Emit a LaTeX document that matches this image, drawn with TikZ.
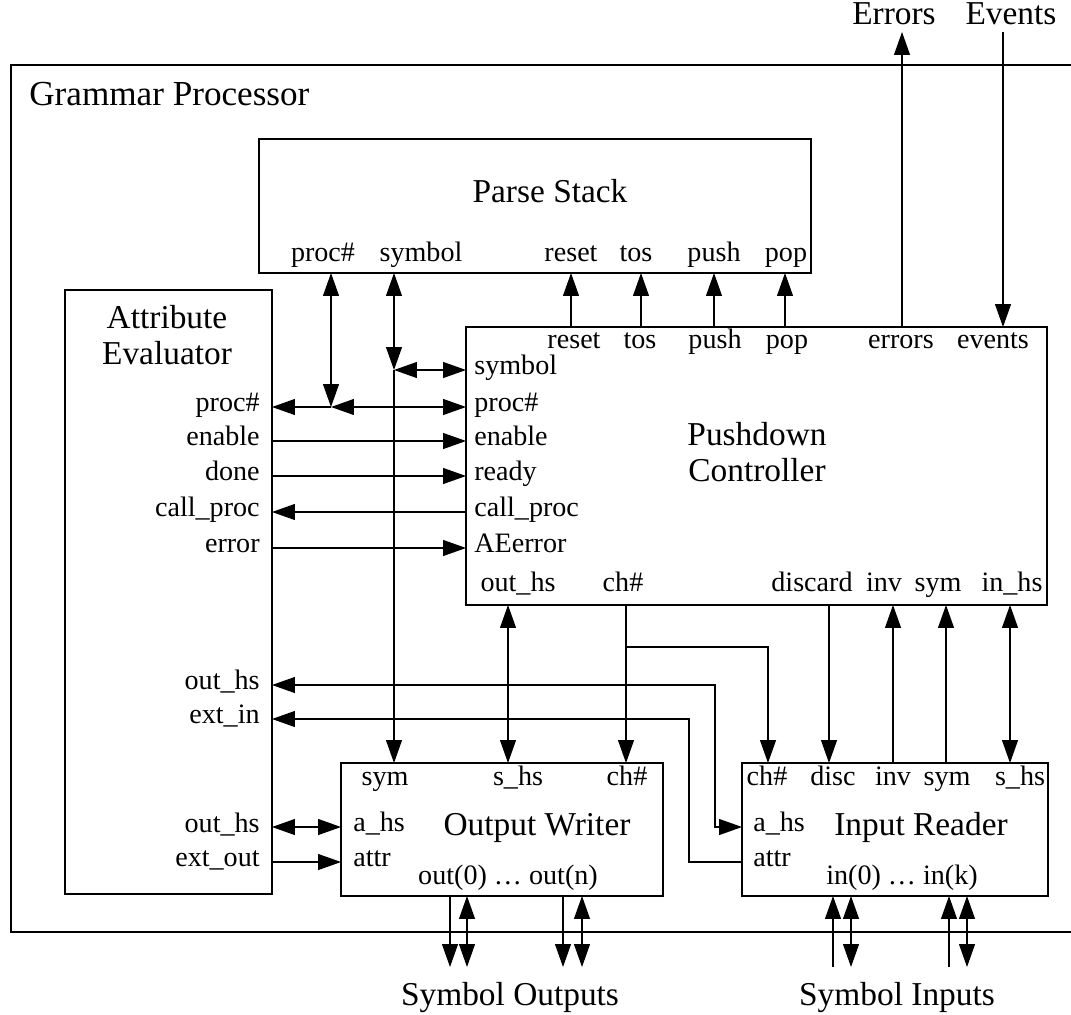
\documentclass[tikz,border=0pt]{standalone}
\usepackage{fontspec}
\setmainfont{Liberation Serif}
\usetikzlibrary{arrows.meta}
\newcommand\portsize{\fontsize{16}{17}\selectfont}
\newcommand\titlesize{\fontsize{19}{20.3}\selectfont}
\newcommand\gpsize{\fontsize{20}{22}\selectfont}
\tikzset{
  blkbox/.style={draw,line width=1pt,inner sep=0pt,outer sep=0pt},
  portlbl/.style={font=\portsize,inner sep=0pt,text height=0.7em,text depth=0.24em},
  blktitle/.style={font=\titlesize,inner sep=0pt,align=center},
  sigline/.style={-{Triangle[length=13pt,width=9pt]},line width=0.8pt},
  bisig/.style={{Triangle[length=13pt,width=9pt]}-{Triangle[length=13pt,width=9pt]},line width=0.8pt},
}

\begin{document}
\begin{tikzpicture}[x=0.02cm,y=-0.02cm]
  \useasboundingbox (0,0) rectangle (1071,1014);
  % outer frame, right side runs off the page
  \draw[line width=1pt] (1071,65) -- (11,65) -- (11,932) -- (1071,932);
  \node[font=\gpsize,anchor=base west,inner sep=0pt] (gpTitle) at (29,105) {Grammar Processor};

  % blocks
  \node[blkbox,minimum width=11.04cm,minimum height=2.68cm] (ps) at (535,206) {};
  \node[blkbox,minimum width=4.14cm,minimum height=12.08cm] (ae) at (168.5,592) {};
  \node[blkbox,minimum width=11.62cm,minimum height=5.56cm] (ctl) at (756.5,466) {};
  \node[blkbox,minimum width=6.44cm,minimum height=2.66cm] (ow) at (502,829.5) {};
  \node[blkbox,minimum width=6.12cm,minimum height=2.66cm] (ir) at (895,829.5) {};

  % titles
  \node[blktitle,anchor=base] (psTitle) at (550,202) {Parse Stack};
  \node[blktitle] (aeTitle) at (167,335) {Attribute\\Evaluator};
  \node[blktitle] (ctlTitle) at (757,452) {Pushdown\\Controller};
  \node[blktitle,anchor=base] (owTitle) at (537,835) {Output Writer};
  \node[blktitle,anchor=base] (irTitle) at (921,835) {Input Reader};
  \node[blktitle,anchor=base] (errTitle) at (894,25) {Errors};
  \node[blktitle,anchor=base] (evtTitle) at (1011,25) {Events};
  \node[blktitle,anchor=base] (soTitle) at (510,1005) {Symbol Outputs};
  \node[blktitle,anchor=base] (siTitle) at (897,1005) {Symbol Inputs};

  % parse stack ports
  \node[portlbl] (psProc) at (323,257) {proc\#};
  \node[portlbl] (psSym) at (421,257) {symbol};
  \node[portlbl] (psReset) at (571,257) {reset};
  \node[portlbl] (psTos) at (636,257) {tos};
  \node[portlbl] (psPush) at (714,257) {push};
  \node[portlbl] (psPop) at (786,257) {pop};

  % controller ports
  \node[portlbl] (ctReset) at (574,344) {reset};
  \node[portlbl] (ctTos) at (640,344) {tos};
  \node[portlbl] (ctPush) at (715,344) {push};
  \node[portlbl] (ctPop) at (787,344) {pop};
  \node[portlbl] (ctErr) at (901,344) {errors};
  \node[portlbl] (ctEvt) at (993,344) {events};
  \node[portlbl,anchor=west] (ctSym) at (474,370) {symbol};
  \node[portlbl,anchor=west] (ctProc) at (474,407) {proc\#};
  \node[portlbl,anchor=west] (ctEn) at (474,441) {enable};
  \node[portlbl,anchor=west] (ctRdy) at (474,476) {ready};
  \node[portlbl,anchor=west] (ctCall) at (474,512) {call\_proc};
  \node[portlbl,anchor=west] (ctAErr) at (474,548) {AEerror};
  \node[portlbl] (ctOutHs) at (518,587) {out\_hs};
  \node[portlbl] (ctCh) at (623,587) {ch\#};
  \node[portlbl] (ctDisc) at (812,587) {discard};
  \node[portlbl] (ctInv) at (884,587) {inv};
  \node[portlbl] (ctSymB) at (938,587) {sym};
  \node[portlbl] (ctInHs) at (1012,587) {in\_hs};

  % attribute evaluator ports
  \node[portlbl,anchor=east] (aeProc) at (260,407) {proc\#};
  \node[portlbl,anchor=east] (aeEn) at (260,441) {enable};
  \node[portlbl,anchor=east] (aeDone) at (260,476) {done};
  \node[portlbl,anchor=east] (aeCall) at (260,512) {call\_proc};
  \node[portlbl,anchor=east] (aeErr) at (260,548) {error};
  \node[portlbl,anchor=east] (aeOutHs) at (260,685) {out\_hs};
  \node[portlbl,anchor=east] (aeExtIn) at (260,719) {ext\_in};
  \node[portlbl,anchor=east] (aeOutHsB) at (260,828) {out\_hs};
  \node[portlbl,anchor=east] (aeExtOut) at (260,862) {ext\_out};

  % output writer ports
  \node[portlbl] (owSym) at (385,781) {sym};
  \node[portlbl] (owSHs) at (518,781) {s\_hs};
  \node[portlbl] (owCh) at (627,781) {ch\#};
  \node[portlbl,anchor=west] (owAHs) at (353,827) {a\_hs};
  \node[portlbl,anchor=west] (owAttr) at (353,862) {attr};
  \node[portlbl] (owOut) at (508,880) {out(0) \dots{} out(n)};

  % input reader ports
  \node[portlbl] (irCh) at (767,781) {ch\#};
  \node[portlbl] (irDisc) at (833,781) {disc};
  \node[portlbl] (irInv) at (893,781) {inv};
  \node[portlbl] (irSym) at (947,781) {sym};
  \node[portlbl] (irSHs) at (1020,781) {s\_hs};
  \node[portlbl,anchor=west] (irAHs) at (753,827) {a\_hs};
  \node[portlbl,anchor=west] (irAttr) at (753,862) {attr};
  \node[portlbl] (irIn) at (902,880) {in(0) \dots{} in(k)};

  % wire columns and rows
  \coordinate (cPsProc) at (331,0);
  \coordinate (cPsSym) at (394,0);
  \coordinate (cReset) at (571,0);
  \coordinate (cTos) at (641,0);
  \coordinate (cPush) at (714,0);
  \coordinate (cPop) at (785,0);
  \coordinate (cOutHs) at (508,0);
  \coordinate (cCh) at (626,0);
  \coordinate (cChIr) at (768,0);
  \coordinate (cDisc) at (829,0);
  \coordinate (cInv) at (893,0);
  \coordinate (cSym) at (946,0);
  \coordinate (cInHs) at (1010,0);
  \coordinate (cAHs) at (715,0);
  \coordinate (cAttr) at (689,0);
  \coordinate (rSym) at (0,370);
  \coordinate (rProc) at (0,407);
  \coordinate (rEn) at (0,441);
  \coordinate (rRdy) at (0,476);
  \coordinate (rCall) at (0,512);
  \coordinate (rErr) at (0,548);
  \coordinate (rOutHs) at (0,685);
  \coordinate (rExtIn) at (0,719);
  \coordinate (rAHs) at (0,827);
  \coordinate (rAttr) at (0,862);
  \coordinate (rChBr) at (0,647);
  \coordinate (jProc) at (cPsProc |- rProc);
  \coordinate (jSym) at (cPsSym |- rSym);
  \coordinate (jCh) at (cCh |- rChBr);
  \coordinate (errOut) at (902,32);
  \coordinate (evtIn) at (1003,32);
  \coordinate (so1) at (450,967);
  \coordinate (so2) at (467,967);
  \coordinate (so3) at (563,967);
  \coordinate (so4) at (582,967);
  \coordinate (si1) at (833,967);
  \coordinate (si2) at (851,967);
  \coordinate (si3) at (949,967);
  \coordinate (si4) at (967,967);

  % parse stack <-> evaluator / controller
  \draw[bisig] (ps.south -| cPsProc) -- (jProc);
  \draw[sigline] (jProc) -- (ae.east |- rProc);
  \draw[bisig] (jProc) -- (ctl.west |- rProc);
  \draw[bisig] (ps.south -| cPsSym) -- (jSym);
  \draw[bisig] (jSym) -- (ctl.west |- rSym);
  \draw[sigline] (jSym) -- (ow.north -| cPsSym);
  \foreach \c in {cReset,cTos,cPush,cPop}
    \draw[sigline] (ctl.north -| \c) -- (ps.south -| \c);

  % evaluator <-> controller
  \draw[sigline] (ae.east |- rEn) -- (ctl.west |- rEn);
  \draw[sigline] (ae.east |- rRdy) -- (ctl.west |- rRdy);
  \draw[sigline] (ctl.west |- rCall) -- (ae.east |- rCall);
  \draw[sigline] (ae.east |- rErr) -- (ctl.west |- rErr);

  % external errors and events
  \draw[sigline] (ctl.north -| errOut) -- (errOut);
  \draw[sigline] (evtIn) -- (ctl.north -| evtIn);

  % controller <-> writer / reader
  \draw[bisig] (ctl.south -| cOutHs) -- (ow.north -| cOutHs);
  \draw[sigline] (ctl.south -| cCh) -- (ow.north -| cCh);
  \draw[sigline] (jCh) -| (ir.north -| cChIr);
  \draw[sigline] (ctl.south -| cDisc) -- (ir.north -| cDisc);
  \draw[sigline] (ir.north -| cInv) -- (ctl.south -| cInv);
  \draw[sigline] (ir.north -| cSym) -- (ctl.south -| cSym);
  \draw[bisig] (ctl.south -| cInHs) -- (ir.north -| cInHs);

  % evaluator <-> writer / reader
  \draw[bisig] (ae.east |- rOutHs) -| (cAHs |- rAHs) -- (ir.west |- rAHs);
  \draw[sigline] (ir.west |- rAttr) -| (cAttr |- rExtIn) -- (ae.east |- rExtIn);
  \draw[bisig] (ae.east |- rAHs) -- (ow.west |- rAHs);
  \draw[sigline] (ae.east |- rAttr) -- (ow.west |- rAttr);

  % symbol outputs and inputs
  \draw[sigline] (ow.south -| so1) -- (so1);
  \draw[bisig] (ow.south -| so2) -- (so2);
  \draw[sigline] (ow.south -| so3) -- (so3);
  \draw[bisig] (ow.south -| so4) -- (so4);
  \draw[sigline] (si1) -- (ir.south -| si1);
  \draw[bisig] (ir.south -| si2) -- (si2);
  \draw[sigline] (si3) -- (ir.south -| si3);
  \draw[bisig] (ir.south -| si4) -- (si4);
\end{tikzpicture}
\end{document}
